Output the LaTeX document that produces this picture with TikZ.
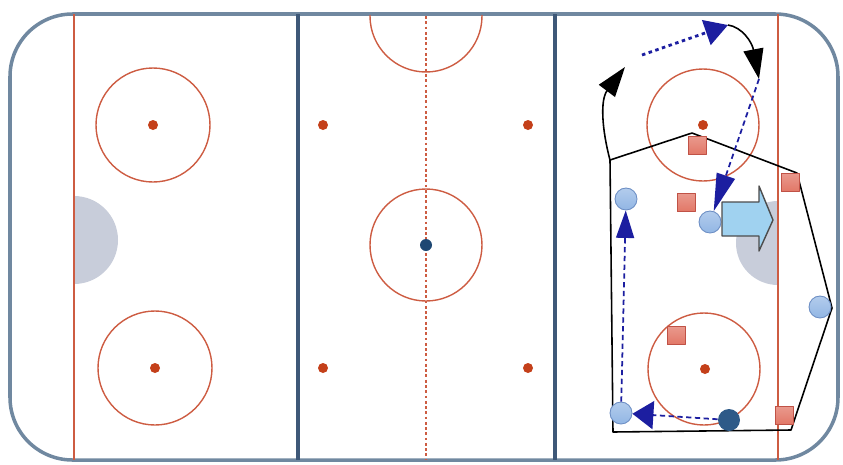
\documentclass[tikz,border=0pt]{standalone}
\usepackage{tikz}
\usetikzlibrary{positioning, arrows.meta, calc}

\definecolor{rinkedge}{RGB}{112,136,160}
\definecolor{redline}{RGB}{205,92,66}
\definecolor{blueline}{RGB}{62,88,120}
\definecolor{spotred}{RGB}{196,64,26}
\definecolor{spotblue}{RGB}{30,72,115}
\definecolor{creasegray}{RGB}{200,205,218}
\definecolor{oppfill}{RGB}{226,120,104}
\definecolor{oppdraw}{RGB}{192,82,70}
\definecolor{matefill}{RGB}{146,182,228}
\definecolor{matedraw}{RGB}{108,142,196}
\definecolor{carrierfill}{RGB}{46,90,136}
\definecolor{passblue}{RGB}{28,30,160}
\definecolor{pushfill}{RGB}{160,210,240}

\tikzset{
    opp/.style={rectangle, draw=oppdraw, line width=0.5pt, top color=oppfill!75!white,
        bottom color=oppfill, minimum size=0.36cm, inner sep=0pt},
    mate/.style={circle, draw=matedraw, line width=0.5pt, top color=matefill!70!white,
        bottom color=matefill, minimum size=0.44cm, inner sep=0pt},
    carrier/.style={circle, fill=carrierfill, minimum size=0.44cm, inner sep=0pt},
    faceoff/.style={redline, line width=0.8pt},
    passline/.style={passblue, line width=1pt},
    skateline/.style={black, line width=0.9pt}
}

\begin{document}
\begin{tikzpicture}[x=0.02cm, y=-0.02cm, line join=round]

    \useasboundingbox (0,0) rectangle (843,464);

    % --- 1. リンクの外枠とライン ---
    \draw [rinkedge, line width=2pt, rounded corners=1.25cm] (10,14) rectangle (838,460);

    % ゴールクリース（半円）
    \begin{scope}
        \clip (74,0) rectangle (300,464);
        \fill [creasegray] (74,240) circle [radius=44];
    \end{scope}
    \begin{scope}
        \clip (600,0) rectangle (778,464);
        \fill [creasegray] (778,243) circle [radius=42];
    \end{scope}

    % ゴールライン（赤）とブルーライン
    \draw [redline, line width=1.3pt] (74,14) -- (74,460);
    \draw [redline, line width=1.3pt] (778,14) -- (778,460);
    \draw [blueline, line width=1.8pt] (298,14) -- (298,460);
    \draw [blueline, line width=1.8pt] (555,14) -- (555,460);

    % センターライン（点線）
    \draw [redline, line width=1.3pt, dash pattern=on 1.6pt off 1.4pt] (426,16) -- (426,460);

    % --- 2. フェイスオフサークルとスポット ---
    \begin{scope}
        \clip (10,15) rectangle (838,460);
        \draw [faceoff] (426,16) circle [radius=56];
    \end{scope}
    \draw [faceoff] (426,245) circle [radius=56];
    \draw [faceoff] (153,125) circle [radius=57];
    \draw [faceoff] (155,368) circle [radius=57];
    \draw [faceoff] (703,125) circle [radius=56];
    \draw [faceoff] (704,369) circle [radius=56];

    \foreach \sx/\sy in {153/125, 155/368, 323/125, 528/125, 323/368, 528/368, 703/125, 705/369}
        \fill [spotred] (\sx,\sy) circle [radius=5];
    \fill [spotblue] (426,245) circle [radius=6];

    % --- 3. ボックス隊形（黒線） ---
    \coordinate (p1) at (610,160);
    \coordinate (p2) at (692,133);
    \coordinate (p3) at (797,173);
    \coordinate (p4) at (832,308);
    \coordinate (p5) at (791,430);
    \coordinate (p6) at (613,432);
    \draw [skateline] (p1) -- (p2) -- (p3) -- (p4) -- (p5) -- (p6) -- cycle;

    % --- 4. 選手 ---
    \node [opp] (opp1) at (697,145) {};
    \node [opp] (opp2) at (686,202) {};
    \node [opp] (opp3) at (790,182) {};
    \node [opp] (opp4) at (676,335) {};
    \node [opp] (opp5) at (784,415) {};

    \node [mate] (mate1) at (626,199) {};
    \node [mate] (mate2) at (710,222) {};
    \node [mate] (mate3) at (820,307) {};
    \node [mate] (mate4) at (621,413) {};
    \node [carrier] (puck) at (729,420) {};

    % 押し出し矢印（水色）
    \draw [black!70, line width=0.8pt, fill=pushfill]
        (722,202) -- (759,202) -- (759,186) -- (773,220) -- (759,251) -- (759,236) -- (722,236) -- cycle;

    % --- 5. 動きとパスの矢印 ---
    \coordinate (loopA) at (625,67);
    \coordinate (pass0) at (642,55);
    \coordinate (pass1) at (728,25);
    \coordinate (turn)  at (759,79);

    \draw [skateline, -{Triangle[length=0.6cm, width=0.4cm]}]
        (p1) .. controls (602,130) and (600,100) .. (loopA);
    \draw [passblue, line width=1.6pt, dash pattern=on 2pt off 2pt,
        -{Triangle[length=0.46cm, width=0.52cm]}] (pass0) -- (pass1);
    \draw [skateline, -{Triangle[length=0.6cm, width=0.4cm]}]
        (pass1) .. controls (742,27) and (752,42) .. (turn);
    \draw [passline, dash pattern=on 3pt off 2pt,
        -{Triangle[length=0.75cm, width=0.38cm]}] (turn) -- (mate2);
    \draw [passline, dash pattern=on 3pt off 2pt,
        -{Triangle[length=0.55cm, width=0.36cm]}] (mate4) -- (mate1);
    \draw [passline, dash pattern=on 3pt off 2pt,
        -{Triangle[length=0.42cm, width=0.56cm]}] (puck) -- (mate4);

\end{tikzpicture}
\end{document}
